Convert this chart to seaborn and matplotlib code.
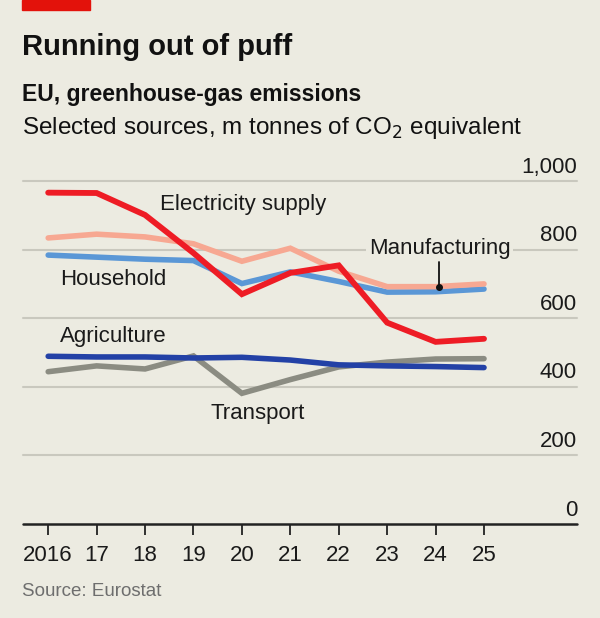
import numpy as np
import pandas as pd
import matplotlib
matplotlib.use("Agg")
import matplotlib.pyplot as plt
import matplotlib.transforms as mtrans
import seaborn as sns

# data (m tonnes CO2 equivalent)
years = [2016, 2017, 2018, 2019, 2020, 2021, 2022, 2023, 2024, 2025]
electricity = [966, 965, 901, 790, 670, 732, 754, 587, 531, 540]
manufacturing = [834, 845, 837, 817, 766, 804, 737, 692, 692, 700]
household = [784, 778, 772, 768, 701, 735, 707, 676, 677, 685]
agriculture = [489, 487, 487, 484, 486, 478, 464, 461, 459, 456]
transport = [444, 461, 452, 490, 381, 421, 458, 472, 481, 482]
tick_labels = ["2016", "17", "18", "19", "20", "21", "22", "23", "24", "25"]
y_ticks = [0, 200, 400, 600, 800, 1000]

bg = "#ECEBE1"
sns.set_theme(style="white")
plt.rcParams["font.family"] = ["Liberation Sans", "DejaVu Sans"]

df = pd.DataFrame({"year": years, "Electricity supply": electricity,
                   "Manufacturing": manufacturing, "Household": household,
                   "Agriculture": agriculture, "Transport": transport})

fig = plt.figure(figsize=(6, 6.18), dpi=100, facecolor=bg)
ax = fig.add_axes([23 / 600, 94 / 618, 554 / 600, 343 / 618])
ax.set_facecolor(bg)

# bottom to top
series = [("Transport", "#8B8C82", 4.0),
          ("Agriculture", "#2341A6", 4.0),
          ("Household", "#5A97D6", 4.0),
          ("Manufacturing", "#F7A892", 4.0),
          ("Electricity supply", "#EE1C25", 4.2)]
for z, (name, col, lw) in enumerate(series):
    sns.lineplot(data=df, x="year", y=name, ax=ax, color=col, linewidth=lw,
                 zorder=3 + z, solid_joinstyle="miter", legend=False)

ax.set_xlim(2015.48, 2026.92)
ax.set_ylim(0, 1000)
ax.set_xlabel("")
ax.set_ylabel("")

for v in y_ticks[1:]:
    ax.axhline(v, color="#C9C8BE", lw=1.5, zorder=1, clip_on=False)
ax.axhline(0, color="#222222", lw=1.8, zorder=10, clip_on=False)

for s in ax.spines.values():
    s.set_visible(False)

ax.set_xticks(years)
ax.set_xticklabels(tick_labels)
ax.tick_params(axis="x", bottom=True, length=8, width=1.3, color="#222222",
               labelsize=16, labelcolor="#1A1A1A", pad=7)

ax.set_yticks(y_ticks)
ax.set_yticklabels([f"{v:,}" for v in y_ticks])
ax.yaxis.tick_right()
ax.tick_params(axis="y", right=False, left=False, length=0, pad=0,
               labelsize=16, labelcolor="#1A1A1A")
lift = mtrans.ScaledTranslation(0, 2.5 / 72, fig.dpi_scale_trans)
for lbl in ax.get_yticklabels():
    lbl.set_horizontalalignment("right")
    lbl.set_verticalalignment("bottom")
    lbl.set_transform(lbl.get_transform() + lift)

# series labels
lab = dict(fontsize=16, color="#1A1A1A", va="center", zorder=12)
ax.text(2018.31, 932, "Electricity supply", ha="left", **lab)
ax.text(2016.25, 712, "Household", ha="left", **lab)
ax.text(2016.25, 546, "Agriculture", ha="left", **lab)
ax.text(2019.35, 322, "Transport", ha="left", **lab)
ax.text(2024.08, 804, "Manufacturing", ha="center",
        bbox=dict(facecolor=bg, edgecolor="none", pad=2), **lab)
ax.plot([2024.08, 2024.08], [764, 692], color="#111111", lw=1.3, zorder=12)
ax.plot([2024.08], [692], "o", color="#111111", ms=4, zorder=12)

# header
fig.patches.append(plt.Rectangle((22 / 600, 1 - 10 / 618), 68 / 600, 10 / 618,
                                 transform=fig.transFigure, color="#E3120B"))
fig.text(22 / 600, 1 - 47 / 618, "Running out of puff", fontsize=21,
         fontweight="bold", color="#111111", va="center")
fig.text(22 / 600, 1 - 95 / 618, "EU, greenhouse-gas emissions", fontsize=16.5,
         fontweight="bold", color="#111111", va="center")
fig.text(22 / 600, 1 - 128 / 618, "Selected sources, m tonnes of CO$_2$ equivalent",
         fontsize=17.5, color="#111111", va="center")
fig.text(22 / 600, 1 - 592 / 618, "Source: Eurostat", fontsize=13.5,
         color="#6E6E6E", va="center")

fig.savefig("out.png", dpi=100, facecolor=bg)
